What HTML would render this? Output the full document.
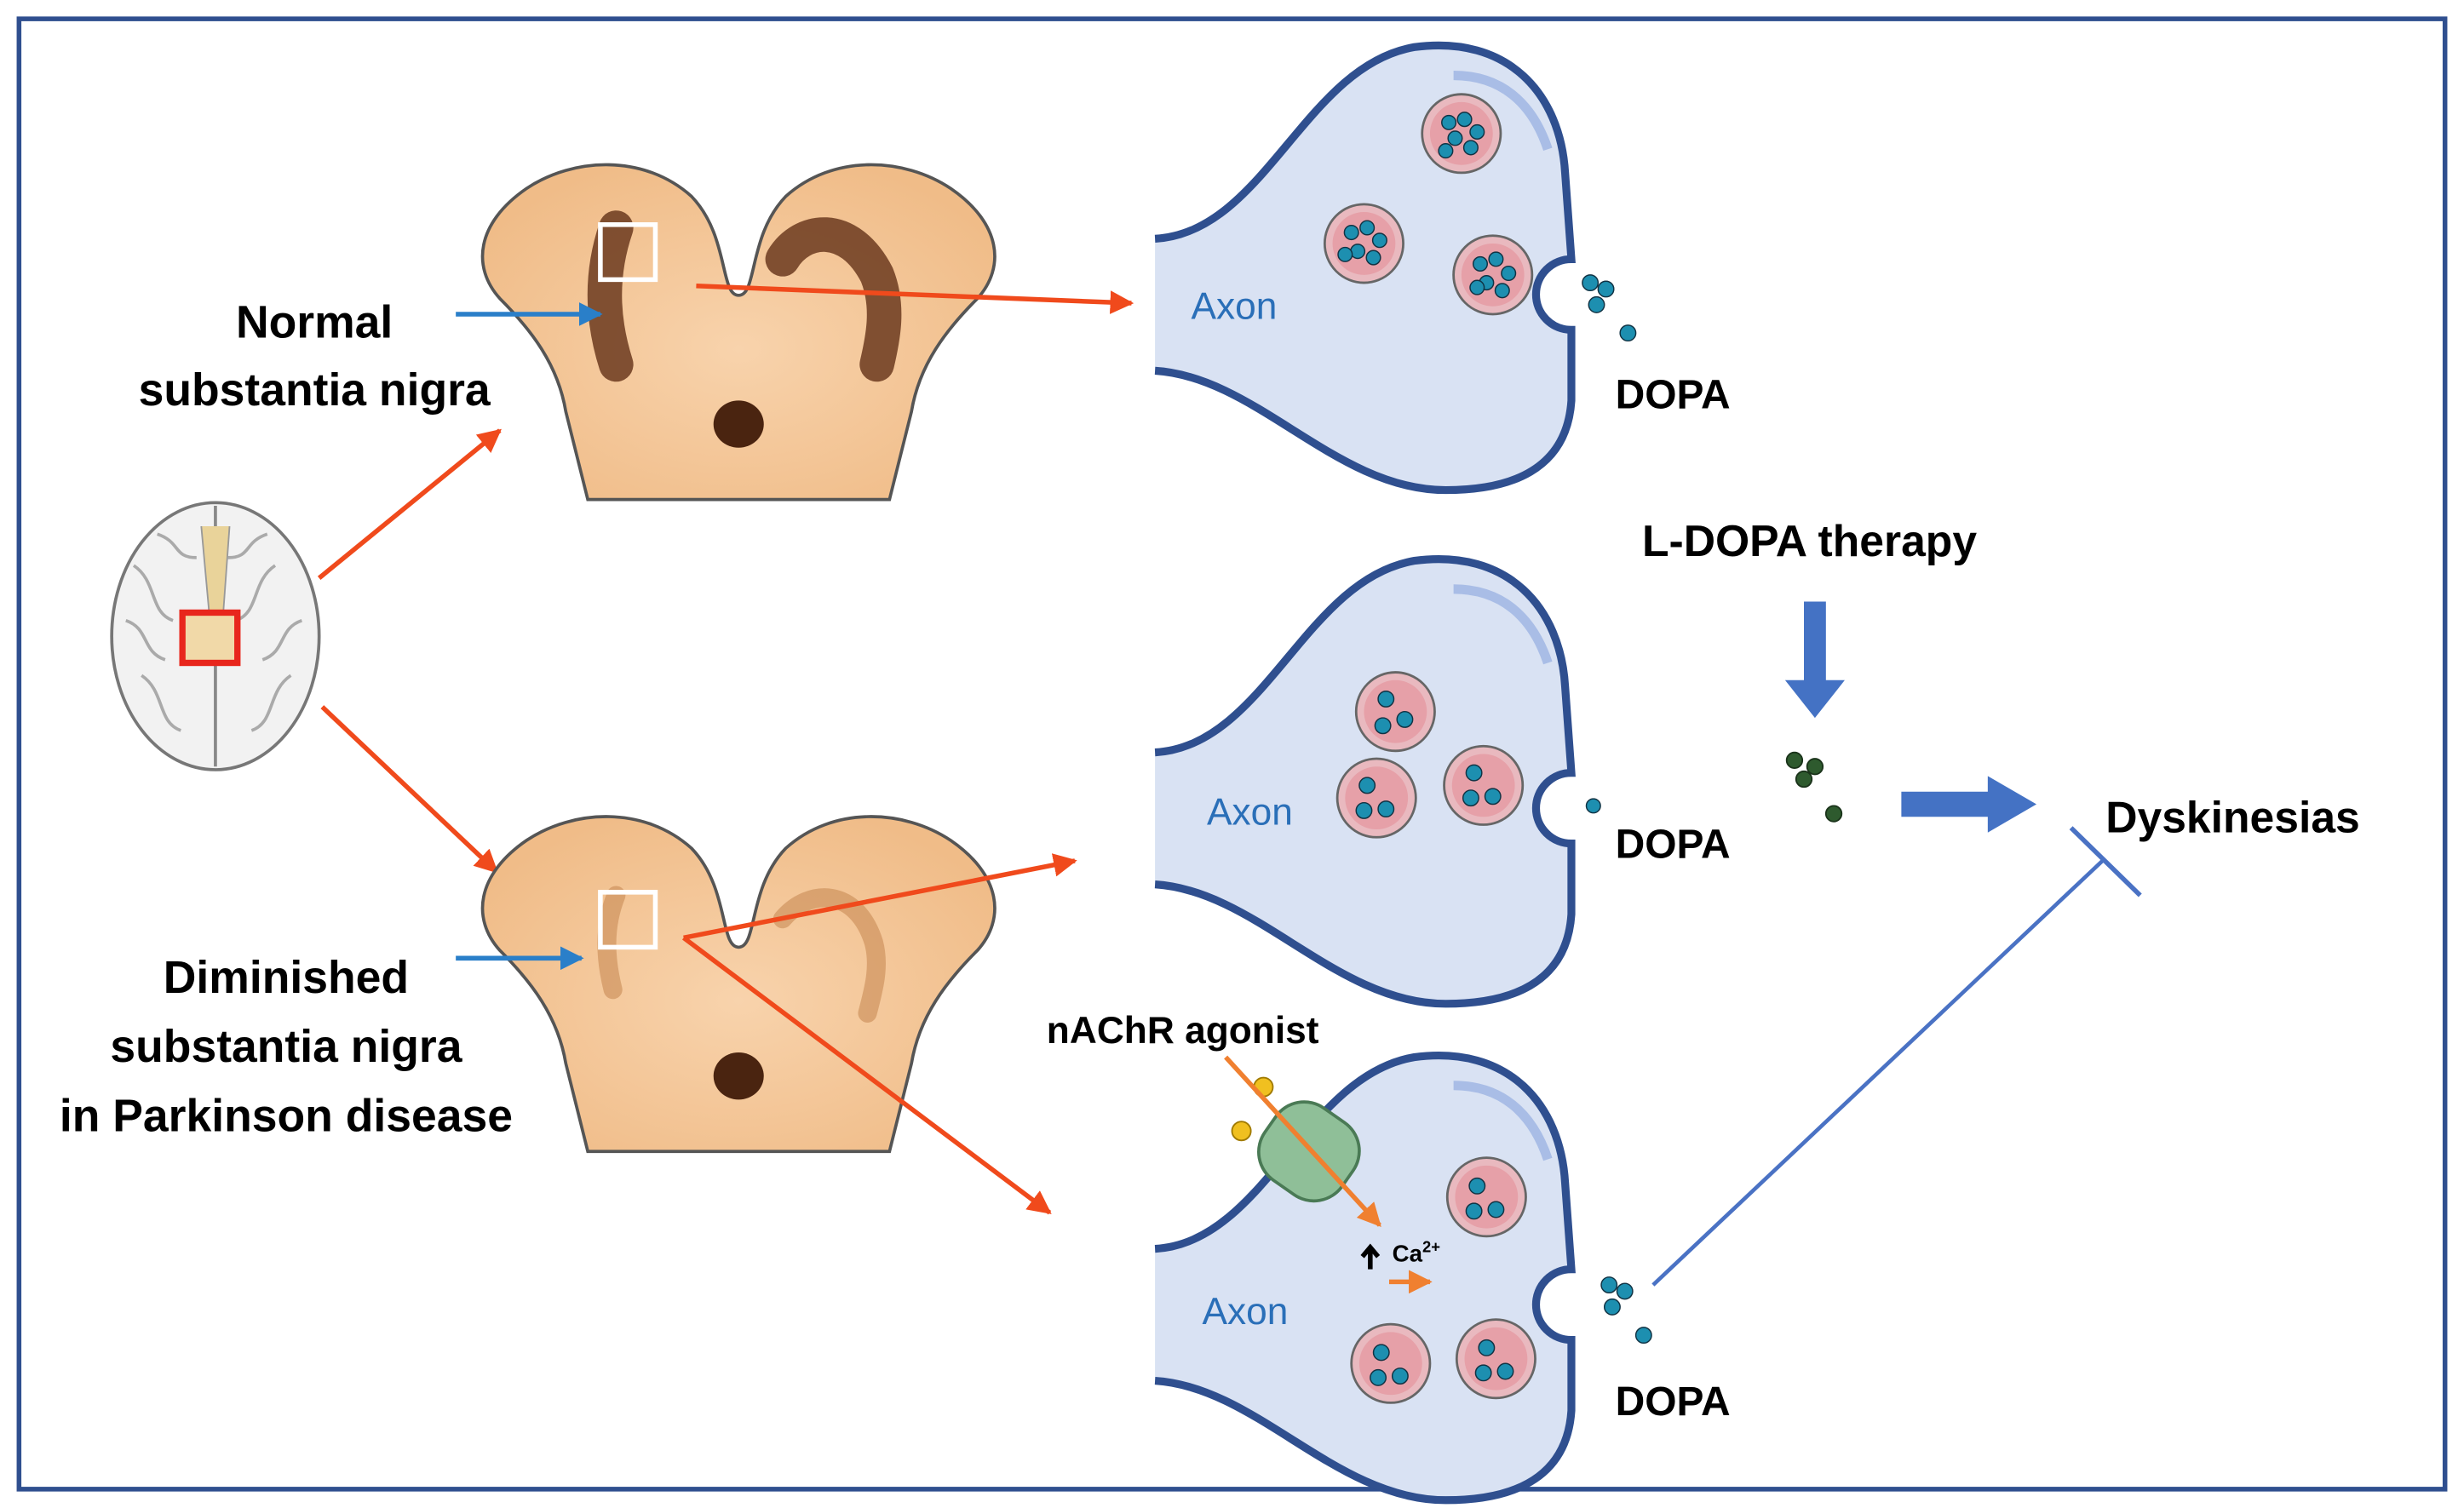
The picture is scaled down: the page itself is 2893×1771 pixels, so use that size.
<!DOCTYPE html>
<html><head><meta charset="utf-8"><style>
html,body{margin:0;padding:0;background:#fff}
svg{display:block}
text{font-family:"Liberation Sans",sans-serif}
</style></head><body>
<svg width="2893" height="1771" viewBox="0 0 1568 960" xmlns="http://www.w3.org/2000/svg">
<defs>
<marker id="ar" markerWidth="5" markerHeight="5" refX="4.5" refY="2.5" orient="auto" markerUnits="strokeWidth"><path d="M0,0 L5,2.5 L0,5 Z" fill="#f04a1c"/></marker>
<marker id="ab" markerWidth="5" markerHeight="5" refX="4.5" refY="2.5" orient="auto" markerUnits="strokeWidth"><path d="M0,0 L5,2.5 L0,5 Z" fill="#2a7fc9"/></marker>
<marker id="ao" markerWidth="5" markerHeight="5" refX="4.5" refY="2.5" orient="auto" markerUnits="strokeWidth"><path d="M0,0 L5,2.5 L0,5 Z" fill="#f08030"/></marker>
<radialGradient id="mg" cx="0.5" cy="0.55" r="0.6"><stop offset="0" stop-color="#f8d3ac"/><stop offset="1" stop-color="#f0bc88"/></radialGradient>
<g id="mb">
<path d="M470,188 C458,188 464,150 440,125 C410,98 365,100 335,120 C303,142 300,170 318,190 C338,210 355,232 360,262 L374,318 L566,318 L580,262 C585,232 602,210 622,190 C640,170 637,142 605,120 C575,100 530,98 500,125 C476,150 482,188 470,188 Z" fill="url(#mg)" stroke="#555" stroke-width="2"/>
</g>
<g id="term">
<path d="M735,152 C805,148 830,42 900,30 C960,22 993,60 996,110 L1000,165 A22,22 0 0 0 1000,210 L1000,255 C997,300 960,312 920,312 C850,312 800,240 735,236 Z" fill="#d9e2f3"/>
<path d="M735,152 C805,148 830,42 900,30 C960,22 993,60 996,110 L1000,165 A22,22 0 0 0 1000,210 L1000,255 C997,300 960,312 920,312 C850,312 800,240 735,236" fill="none" stroke="#2f4f8f" stroke-width="5"/>
<path d="M925,48 C955,48 975,65 985,95" fill="none" stroke="#a9bde6" stroke-width="6"/>
</g>
<g id="ves"><circle r="25" fill="#e9b9bf" stroke="#666" stroke-width="1.5"/><circle r="20" fill="#e6a0a8"/></g>
</defs>
<rect x="12" y="12" width="1544" height="936" fill="#fff" stroke="#2f4f8f" stroke-width="3"/>

<!-- brain -->
<g>
<ellipse cx="137" cy="405" rx="66" ry="85" fill="#f2f2f2" stroke="#777" stroke-width="2"/>
<line x1="137" y1="322" x2="137" y2="488" stroke="#888" stroke-width="2"/>
<path d="M85,360 C100,370 95,390 110,395 M90,430 C105,440 100,460 115,465 M175,360 C160,370 165,390 150,395 M185,430 C170,440 175,460 160,465 M100,340 C115,345 110,355 125,355 M170,340 C155,345 160,355 145,355 M80,395 C95,400 90,415 105,420 M192,395 C177,400 182,415 167,420" fill="none" stroke="#aaa" stroke-width="2"/>
<path d="M128,335 L133,390 L142,390 L146,335" fill="#e9d39a" stroke="#999"/>
<rect x="116" y="390" width="35" height="32" fill="#f1d9a8" stroke="#e8261c" stroke-width="4"/>
</g>
<line x1="203" y1="368" x2="318" y2="274" stroke="#f04a1c" stroke-width="3" marker-end="url(#ar)"/>
<line x1="205" y1="450" x2="316" y2="555" stroke="#f04a1c" stroke-width="3" marker-end="url(#ar)"/>

<!-- top midbrain -->
<use href="#mb"/>
<path d="M392,145 C380,180 385,210 392,232" fill="none" stroke="#6b3a1e" stroke-width="22" stroke-linecap="round" opacity="0.85"/>
<path d="M498,165 C510,145 540,140 558,175 C566,195 562,215 558,232" fill="none" stroke="#6b3a1e" stroke-width="22" stroke-linecap="round" opacity="0.85"/>
<ellipse cx="470" cy="270" rx="16" ry="15" fill="#4a2410"/>
<rect x="382" y="143" width="35" height="35" fill="none" stroke="#fff" stroke-width="3"/>
<text x="200" y="215" font-size="29" font-weight="bold" text-anchor="middle">Normal</text>
<text x="200" y="258" font-size="29" font-weight="bold" text-anchor="middle">substantia nigra</text>
<line x1="290" y1="200" x2="382" y2="200" stroke="#2a7fc9" stroke-width="3" marker-end="url(#ab)"/>
<line x1="443" y1="182" x2="720" y2="193" stroke="#f04a1c" stroke-width="3" marker-end="url(#ar)"/>

<!-- bottom midbrain -->
<use href="#mb" y="415"/>
<path d="M392,570 C384,590 385,610 390,630 M498,585 C515,565 545,565 556,600 C560,615 556,630 552,645" fill="none" stroke="#c88a55" stroke-width="12" stroke-linecap="round" opacity="0.6"/>
<ellipse cx="470" cy="685" rx="16" ry="15" fill="#4a2410"/>
<rect x="382" y="568" width="35" height="35" fill="none" stroke="#fff" stroke-width="3"/>
<text x="182" y="632" font-size="29" font-weight="bold" text-anchor="middle">Diminished</text>
<text x="182" y="676" font-size="29" font-weight="bold" text-anchor="middle">substantia nigra</text>
<text x="182" y="720" font-size="29" font-weight="bold" text-anchor="middle">in Parkinson disease</text>
<line x1="290" y1="610" x2="370" y2="610" stroke="#2a7fc9" stroke-width="3" marker-end="url(#ab)"/>
<line x1="435" y1="597" x2="684" y2="548" stroke="#f04a1c" stroke-width="3" marker-end="url(#ar)"/>
<line x1="435" y1="597" x2="668" y2="772" stroke="#f04a1c" stroke-width="3" marker-end="url(#ar)"/>

<!-- top terminal -->
<use href="#term"/>
<text x="758" y="203" font-size="24" fill="#2a6fb8">Axon</text>
<g transform="translate(930,85)"><use href="#ves"/></g>
<g transform="translate(868,155)"><use href="#ves"/></g>
<g transform="translate(950,175)"><use href="#ves"/></g>
<g fill="#1d8fb0" stroke="#134" stroke-width="0.8">
<circle cx="922" cy="78" r="4.5"/><circle cx="932" cy="76" r="4.5"/><circle cx="940" cy="84" r="4.5"/><circle cx="926" cy="88" r="4.5"/><circle cx="936" cy="94" r="4.5"/><circle cx="920" cy="96" r="4.5"/>
<circle cx="860" cy="148" r="4.5"/><circle cx="870" cy="145" r="4.5"/><circle cx="878" cy="153" r="4.5"/><circle cx="864" cy="160" r="4.5"/><circle cx="874" cy="164" r="4.5"/><circle cx="856" cy="162" r="4.5"/>
<circle cx="942" cy="168" r="4.5"/><circle cx="952" cy="165" r="4.5"/><circle cx="960" cy="174" r="4.5"/><circle cx="946" cy="180" r="4.5"/><circle cx="956" cy="185" r="4.5"/><circle cx="940" cy="183" r="4.5"/>
<circle cx="1012" cy="180" r="5"/><circle cx="1022" cy="184" r="5"/><circle cx="1016" cy="194" r="5"/><circle cx="1036" cy="212" r="5"/>
</g>
<text x="1028" y="260" font-size="26" font-weight="bold">DOPA</text>

<!-- middle terminal -->
<use href="#term" y="327"/>
<text x="768" y="525" font-size="24" fill="#2a6fb8">Axon</text>
<g transform="translate(888,453)"><use href="#ves"/></g>
<g transform="translate(876,508)"><use href="#ves"/></g>
<g transform="translate(944,500)"><use href="#ves"/></g>
<g fill="#1d8fb0" stroke="#134" stroke-width="0.8">
<circle cx="882" cy="445" r="5"/><circle cx="894" cy="458" r="5"/><circle cx="880" cy="462" r="5"/>
<circle cx="870" cy="500" r="5"/><circle cx="882" cy="515" r="5"/><circle cx="868" cy="516" r="5"/>
<circle cx="938" cy="492" r="5"/><circle cx="950" cy="507" r="5"/><circle cx="936" cy="508" r="5"/>
<circle cx="1014" cy="513" r="4.5"/>
</g>
<text x="1028" y="546" font-size="26" font-weight="bold">DOPA</text>

<!-- bottom terminal -->
<use href="#term" y="643"/>
<text x="765" y="843" font-size="24" fill="#2a6fb8">Axon</text>
<g transform="translate(946,762)"><use href="#ves"/></g>
<g transform="translate(885,868)"><use href="#ves"/></g>
<g transform="translate(952,865)"><use href="#ves"/></g>
<g fill="#1d8fb0" stroke="#134" stroke-width="0.8">
<circle cx="940" cy="755" r="5"/><circle cx="952" cy="770" r="5"/><circle cx="938" cy="771" r="5"/>
<circle cx="879" cy="861" r="5"/><circle cx="891" cy="876" r="5"/><circle cx="877" cy="877" r="5"/>
<circle cx="946" cy="858" r="5"/><circle cx="958" cy="873" r="5"/><circle cx="944" cy="874" r="5"/>
<circle cx="1024" cy="818" r="5"/><circle cx="1034" cy="822" r="5"/><circle cx="1026" cy="832" r="5"/><circle cx="1046" cy="850" r="5"/>
</g>
<text x="1028" y="901" font-size="26" font-weight="bold">DOPA</text>
<!-- receptor -->
<g transform="rotate(35 833 733)">
<rect x="803" y="705" width="60" height="56" rx="22" fill="#8fbf98" stroke="#4a7a55" stroke-width="2"/>
</g>
<circle cx="804" cy="692" r="6" fill="#f0c020" stroke="#a07a00"/>
<circle cx="790" cy="720" r="6" fill="#f0c020" stroke="#a07a00"/>
<line x1="780" y1="673" x2="878" y2="780" stroke="#f08030" stroke-width="3" marker-end="url(#ao)"/>
<text x="666" y="664" font-size="24" font-weight="bold">nAChR agonist</text>
<path d="M872,808 L872,796 M867,800 L872,794 L877,800" stroke="#000" stroke-width="3" fill="none"/>
<text x="886" y="803" font-size="15" font-weight="bold">Ca<tspan font-size="10" dy="-6">2+</tspan></text>
<line x1="884" y1="816" x2="910" y2="816" stroke="#f08030" stroke-width="3" marker-end="url(#ao)"/>

<!-- right -->
<text x="1045" y="354" font-size="28" font-weight="bold">L-DOPA therapy</text>
<path d="M1148,383 L1162,383 L1162,433 L1174,433 L1155,457 L1136,433 L1148,433 Z" fill="#4472c4"/>
<g fill="#2e5a2e" stroke="#1a331a"><circle cx="1142" cy="484" r="5"/><circle cx="1155" cy="488" r="5"/><circle cx="1148" cy="496" r="5"/><circle cx="1167" cy="518" r="5"/></g>
<path d="M1210,504 L1265,504 L1265,494 L1296,512 L1265,530 L1265,520 L1210,520 Z" fill="#4472c4"/>
<text x="1340" y="530" font-size="28" font-weight="bold">Dyskinesias</text>
<line x1="1052" y1="818" x2="1338" y2="548" stroke="#4a72c4" stroke-width="2.5"/>
<line x1="1318" y1="527" x2="1362" y2="570" stroke="#4a72c4" stroke-width="3"/>
</svg>
</body></html>
